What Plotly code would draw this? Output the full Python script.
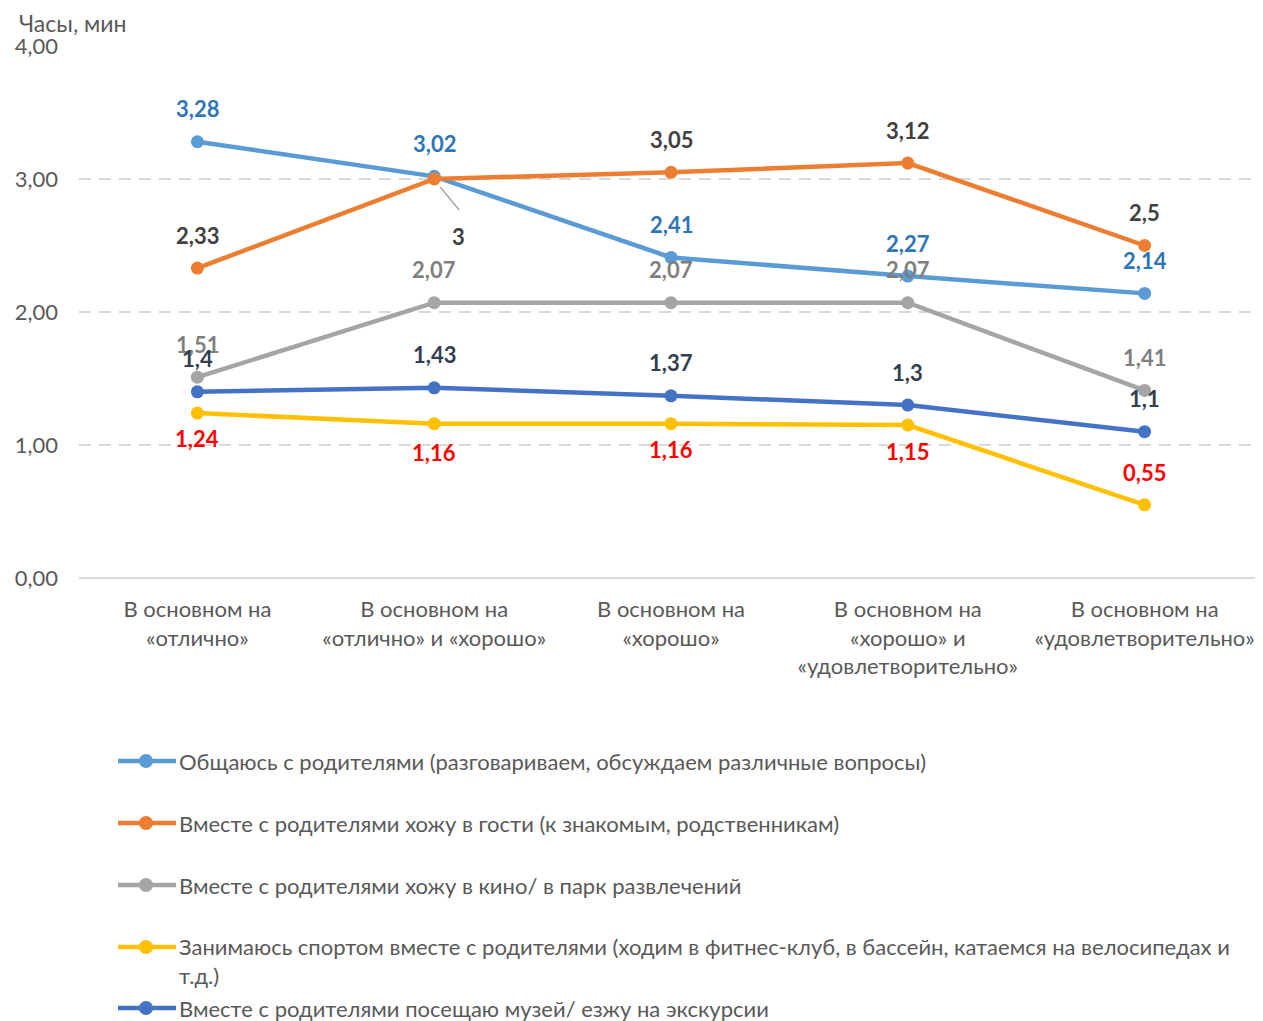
import plotly.graph_objects as go

# page has an 8px body margin; figure is sized so that it fills the 1263x1021 window
OFF = 8
W, H = 1263 - OFF, 1021 - OFF
FONT = "Lato, 'Noto Sans', sans-serif"

categories = [
    "В основном на<br>«отлично»",
    "В основном на<br>«отлично» и «хорошо»",
    "В основном на<br>«хорошо»",
    "В основном на<br>«хорошо» и<br>«удовлетворительно»",
    "В основном на<br>«удовлетворительно»",
]
names = [
    "Общаюсь с родителями (разговариваем, обсуждаем различные вопросы)",
    "Вместе с родителями хожу в гости (к знакомым, родственникам)",
    "Вместе с родителями хожу в кино/ в парк развлечений",
    "Занимаюсь спортом вместе с родителями (ходим в фитнес-клуб, в бассейн, катаемся на велосипедах и<br>т.д.)",
    "Вместе с родителями посещаю музей/ езжу на экскурсии",
]
talk = [3.28, 3.02, 2.41, 2.27, 2.14]
visits = [2.33, 3.00, 3.05, 3.12, 2.50]
cinema = [1.51, 2.07, 2.07, 2.07, 1.41]
sport = [1.24, 1.16, 1.16, 1.15, 0.55]
museum = [1.40, 1.43, 1.37, 1.30, 1.10]
y_ticks = [0, 1, 2, 3, 4]

series = [talk, visits, cinema, sport, museum]
colors = ["#5B9BD5", "#ED7D31", "#A5A5A5", "#FFC000", "#4472C4"]
label_colors = ["#2E75B6", "#404040", "#7F7F7F", "#FF0000", "#333F50"]
# (xshift, yshift) of each data label, in pixels
label_shift = [
    [(0, 33)] * 5,
    [(0, 33), (24, -58), (0, 33), (0, 33), (0, 33)],
    [(0, 33)] * 5,
    [(0, -25), (0, -29), (0, -26), (0, -26), (0, 32)],
    [(0, 33)] * 5,
]
# leader line for the displaced label (series 1, point 1)
leader = dict(series=1, point=1, dx0=6, dy0=-8, dx1=25, dy1=-31)


def fmt(v):
    return f"{v:g}".replace(".", ",")


def px_x(p):
    return (p - OFF) / W


def px_y(p):
    return 1 - (p - OFF) / H


fig = go.Figure()
for vals, c, nm in zip(series, colors, names):
    fig.add_trace(go.Scatter(
        x=categories, y=vals, mode="lines+markers", name=nm,
        line=dict(color=c, width=4.5), marker=dict(color=c, size=13),
        showlegend=False, hoverinfo="skip",
    ))

annotations = []
for vals, lc, shifts in zip(series, label_colors, label_shift):
    for cat, v, (sx, sy) in zip(categories, vals, shifts):
        annotations.append(dict(
            x=cat, y=v, xref="x", yref="y", text=f"<b>{fmt(v)}</b>",
            showarrow=False, xshift=sx, yshift=sy, yanchor="middle",
            font=dict(family=FONT, size=22, color=lc),
        ))

shapes = []
shapes.append(dict(
    type="line", xref="x", yref="y", xsizemode="pixel", ysizemode="pixel",
    xanchor=categories[leader["point"]], yanchor=series[leader["series"]][leader["point"]],
    x0=leader["dx0"], y0=leader["dy0"], x1=leader["dx1"], y1=leader["dy1"],
    line=dict(color="#A6A6A6", width=1.5),
))

# axis title
annotations.append(dict(
    x=px_x(17), y=px_y(23), xref="paper", yref="paper", text="Часы, мин",
    showarrow=False, xanchor="left", yanchor="middle",
    font=dict(family=FONT, size=23, color="#595959"),
))

# manual legend
leg_y = [761, 823, 885, 947, 1008]
for nm, c, py in zip(names, colors, leg_y):
    yp = px_y(py)
    shapes.append(dict(type="line", xref="paper", yref="paper",
                       x0=px_x(118), x1=px_x(176), y0=yp, y1=yp,
                       line=dict(color=c, width=4.5)))
    shapes.append(dict(type="circle", xref="paper", yref="paper",
                       xsizemode="pixel", ysizemode="pixel",
                       xanchor=px_x(146), yanchor=yp,
                       x0=-7, x1=7, y0=-7, y1=7,
                       fillcolor=c, line=dict(color=c, width=0)))
    if "<br>" in nm:
        annotations.append(dict(
            x=px_x(177), y=px_y(py - 16), xref="paper", yref="paper", text=nm,
            showarrow=False, xanchor="left", yanchor="top", align="left",
            font=dict(family=FONT, size=22, color="#595959"),
        ))
    else:
        annotations.append(dict(
            x=px_x(177), y=yp, xref="paper", yref="paper", text=nm,
            showarrow=False, xanchor="left", yanchor="middle",
            font=dict(family=FONT, size=22, color="#595959"),
        ))

fig.update_layout(
    width=W, height=H,
    margin=dict(l=0, r=0, t=0, b=0),
    plot_bgcolor="white", paper_bgcolor="white",
    separators=", ",
    font=dict(family=FONT, color="#595959"),
    annotations=annotations, shapes=shapes,
    showlegend=False,
    xaxis=dict(
        domain=[(79 - OFF) / W, 1], type="category", automargin=False,
        showgrid=False, showline=False, zeroline=False,
        ticks="", tickfont=dict(size=22, color="#595959"),
        ticklabelstandoff=16, range=[-0.5, 4.5],
    ),
    yaxis=dict(
        domain=[1 - (578 - OFF) / H, 1 - (46 - OFF) / H], automargin=False,
        range=[0, 4], tickvals=y_ticks, tickformat=".2f",
        showgrid=True, gridcolor="#D9D9D9", griddash="12px,8px", gridwidth=1.5,
        zeroline=True, zerolinecolor="#D9D9D9", zerolinewidth=1.5,
        showline=False, ticks="", ticklabelstandoff=20,
        tickfont=dict(size=22, color="#595959"),
    ),
)

fig.write_html("out.html")
